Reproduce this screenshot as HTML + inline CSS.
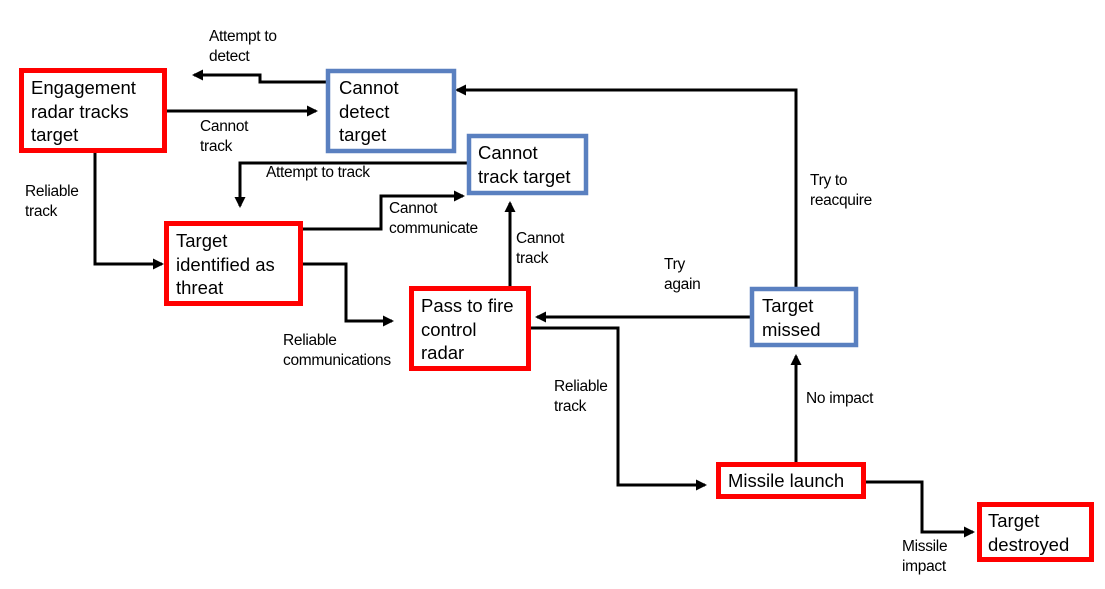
<!DOCTYPE html>
<html><head><meta charset="utf-8"><style>
body{margin:0;background:#fff}
svg{display:block}
.b{font-family:"Liberation Sans",sans-serif;font-size:18.5px;fill:#000}
.l{font-family:"Liberation Sans",sans-serif;font-size:15.5px;fill:#000;letter-spacing:-0.3px}
.r{fill:#fff;stroke:#f00;stroke-width:5}
.u{fill:#fff;stroke:#5a80c0;stroke-width:4.5}
.c{fill:none;stroke:#000;stroke-width:3}
</style></head><body>
<svg width="1105" height="589" viewBox="0 0 1105 589">
<defs><marker id="a" markerWidth="12" markerHeight="12" refX="9" refY="5.5" orient="auto" markerUnits="userSpaceOnUse"><path d="M0,0 L11,5.5 L0,11 z" fill="#000"/></marker></defs>
<polyline class="c" points="326,82 260,82 260,75 194,75" marker-end="url(#a)"/>
<polyline class="c" points="167,111 316,111" marker-end="url(#a)"/>
<polyline class="c" points="95,153 95,264 162,264" marker-end="url(#a)"/>
<polyline class="c" points="467,163 240,163 240,206" marker-end="url(#a)"/>
<polyline class="c" points="303,229 381,229 381,196 463,196" marker-end="url(#a)"/>
<polyline class="c" points="303,264 346,264 346,321 392,321" marker-end="url(#a)"/>
<polyline class="c" points="510,286 510,203" marker-end="url(#a)"/>
<polyline class="c" points="750,317 537,317" marker-end="url(#a)"/>
<polyline class="c" points="531,328 618,328 618,485 705,485" marker-end="url(#a)"/>
<polyline class="c" points="796,462 796,356" marker-end="url(#a)"/>
<polyline class="c" points="796,287 796,90 457,90" marker-end="url(#a)"/>
<polyline class="c" points="866,482 922,482 922,532 973,532" marker-end="url(#a)"/>
<rect class="r" x="21.5" y="70.5" width="143" height="80"/>
<rect class="u" x="328" y="71" width="126" height="80"/>
<rect class="u" x="469" y="136" width="117" height="57"/>
<rect class="r" x="166.5" y="223.5" width="134" height="80"/>
<rect class="r" x="411.5" y="288.5" width="117" height="80"/>
<rect class="u" x="752" y="289" width="104" height="56"/>
<rect class="r" x="718.5" y="464.5" width="145" height="32"/>
<rect class="r" x="979.5" y="504.5" width="112" height="55"/>
<text class="b" x="31" y="94">Engagement</text><text class="b" x="31" y="118">radar tracks</text><text class="b" x="31" y="141">target</text>
<text class="b" x="339" y="94">Cannot</text><text class="b" x="339" y="118">detect</text><text class="b" x="339" y="141">target</text>
<text class="b" x="478" y="159">Cannot</text><text class="b" x="478" y="183">track target</text>
<text class="b" x="176" y="247">Target</text><text class="b" x="176" y="271">identified as</text><text class="b" x="176" y="294">threat</text>
<text class="b" x="421" y="312">Pass to fire</text><text class="b" x="421" y="336">control</text><text class="b" x="421" y="359">radar</text>
<text class="b" x="762" y="312">Target</text><text class="b" x="762" y="336">missed</text>
<text class="b" x="728" y="487">Missile launch</text>
<text class="b" x="988" y="527">Target</text><text class="b" x="988" y="551">destroyed</text>
<text class="l" x="209" y="41">Attempt to</text><text class="l" x="209" y="61">detect</text>
<text class="l" x="200" y="131">Cannot</text><text class="l" x="200" y="151">track</text>
<text class="l" x="25" y="196">Reliable</text><text class="l" x="25" y="216">track</text>
<text class="l" x="266" y="177">Attempt to track</text>
<text class="l" x="389" y="213">Cannot</text><text class="l" x="389" y="233">communicate</text>
<text class="l" x="516" y="243">Cannot</text><text class="l" x="516" y="263">track</text>
<text class="l" x="283" y="345">Reliable</text><text class="l" x="283" y="365">communications</text>
<text class="l" x="664" y="269">Try</text><text class="l" x="664" y="289">again</text>
<text class="l" x="554" y="391">Reliable</text><text class="l" x="554" y="411">track</text>
<text class="l" x="806" y="403">No impact</text>
<text class="l" x="810" y="185">Try to</text><text class="l" x="810" y="205">reacquire</text>
<text class="l" x="902" y="551">Missile</text><text class="l" x="902" y="571">impact</text>
</svg>
</body></html>
